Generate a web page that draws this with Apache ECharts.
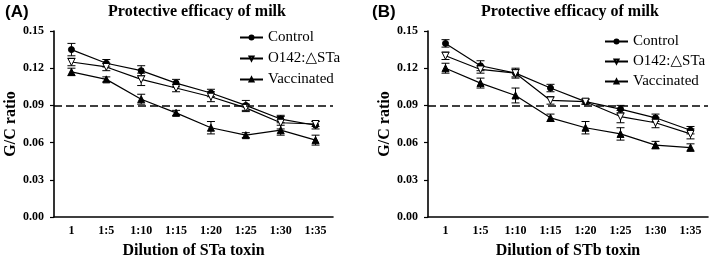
<!DOCTYPE html>
<html>
<head>
<meta charset="utf-8">
<script src="https://cdn.jsdelivr.net/npm/echarts@6/dist/echarts.min.js"></script>
<style>
  html, body { margin: 0; padding: 0; background: #fff; }
  #chart { width: 709px; height: 257px; }
</style>
</head>
<body>
<div id="chart"></div>
<script>
// 数据
const dilutions = ['1', '1:5', '1:10', '1:15', '1:20', '1:25', '1:30', '1:35'];
const yTicks = [0, 0.03, 0.06, 0.09, 0.12, 0.15];
const threshold = 0.09;

// (A) STa toxin
const controlA = [0.135, 0.124, 0.118, 0.108, 0.100, 0.090, 0.079, 0.074];
const controlAErr = [0.005, 0.003, 0.004, 0.003, 0.003, 0.004, 0.003, 0.003];
const o142A = [0.125, 0.121, 0.111, 0.104, 0.097, 0.088, 0.076, 0.075];
const o142AErr = [0.003, 0.003, 0.005, 0.003, 0.004, 0.003, 0.005, 0.002];
const vaccA = [0.117, 0.111, 0.095, 0.084, 0.072, 0.066, 0.070, 0.062];
const vaccAErr = [0.003, 0.002, 0.004, 0.002, 0.005, 0.002, 0.004, 0.004];

// (B) STb toxin
const controlB = [0.140, 0.122, 0.116, 0.104, 0.093, 0.087, 0.080, 0.070];
const controlBErr = [0.003, 0.004, 0.003, 0.003, 0.002, 0.003, 0.003, 0.003];
const o142B = [0.130, 0.119, 0.116, 0.094, 0.093, 0.081, 0.076, 0.067];
const o142BErr = [0.003, 0.003, 0.004, 0.003, 0.002, 0.005, 0.004, 0.004];
const vaccB = [0.120, 0.108, 0.098, 0.080, 0.072, 0.067, 0.058, 0.056];
const vaccBErr = [0.004, 0.004, 0.006, 0.003, 0.005, 0.005, 0.003, 0.003];

const serifFont = '"Liberation Serif", "DejaVu Serif", serif';
const sansFont = '"Liberation Sans", Arial, sans-serif';
const downTri = 'path://M0,0 L10,0 L5,9 Z';

// 误差线 custom series
const errorBars = (vals, errs, idx) => ({
    type: 'custom',
    xAxisIndex: idx,
    yAxisIndex: idx,
    silent: true,
    z: 1,
    data: vals.map((v, i) => [i, v - errs[i], v + errs[i]]),
    renderItem: (params, api) => {
        const lo = api.coord([api.value(0), api.value(1)]);
        const hi = api.coord([api.value(0), api.value(2)]);
        const w = 4;
        const style = { stroke: '#000', lineWidth: 1 };
        return {
            type: 'group',
            children: [
                { type: 'line', shape: { x1: hi[0], y1: hi[1], x2: lo[0], y2: lo[1] }, style },
                { type: 'line', shape: { x1: hi[0] - w, y1: hi[1], x2: hi[0] + w, y2: hi[1] }, style },
                { type: 'line', shape: { x1: lo[0] - w, y1: lo[1], x2: lo[0] + w, y2: lo[1] }, style }
            ]
        };
    }
});

const lineSeries = (name, vals, idx, symbol, filled, withMark) => {
    const s = {
        name,
        type: 'line',
        xAxisIndex: idx,
        yAxisIndex: idx,
        data: vals,
        symbol,
        symbolSize: symbol === 'circle' ? 6 : 7,
        showAllSymbol: true,
        z: 3,
        lineStyle: { color: '#000', width: 1.2 },
        itemStyle: { color: filled ? '#000' : '#fff', borderColor: '#000', borderWidth: 1 }
    };
    if (withMark) {
        s.markLine = {
            silent: true,
            symbol: 'none',
            label: { show: false },
            lineStyle: { color: '#000', type: [8, 4], width: 1.6 },
            data: [{ yAxis: threshold }]
        };
    }
    return s;
};

const xAxisOf = (idx, name) => ({
    type: 'category',
    gridIndex: idx,
    data: dilutions,
    boundaryGap: true,
    name,
    nameLocation: 'middle',
    nameGap: 26,
    nameTextStyle: { fontFamily: serifFont, fontWeight: 'bold', fontSize: 16, color: '#000' },
    axisLine: { lineStyle: { color: '#000', width: 1.6 } },
    axisTick: { alignWithLabel: true, length: 4, lineStyle: { color: '#000', width: 1.2 } },
    axisLabel: { fontFamily: serifFont, fontWeight: 'bold', fontSize: 12, color: '#000', margin: 8 },
    splitLine: { show: false }
});

const yAxisOf = idx => ({
    type: 'value',
    gridIndex: idx,
    min: yTicks[0],
    max: yTicks[yTicks.length - 1],
    interval: 0.03,
    name: 'G/C ratio',
    nameLocation: 'middle',
    nameGap: 34,
    nameTextStyle: { fontFamily: serifFont, fontWeight: 'bold', fontSize: 16, color: '#000' },
    axisLine: { show: true, lineStyle: { color: '#000', width: 1.6 } },
    axisTick: { show: true, length: 4, lineStyle: { color: '#000', width: 1.2 } },
    axisLabel: { fontFamily: serifFont, fontWeight: 'bold', fontSize: 12, color: '#000', margin: 10,
        formatter: v => v.toFixed(2) },
    splitLine: { show: false }
});

const legendOf = (left, top, gap) => ({
    left,
    top,
    padding: 0,
    orient: 'vertical',
    itemGap: gap,
    itemWidth: 23,
    itemHeight: 5,
    textStyle: { fontFamily: serifFont, fontSize: 15, color: '#000' },
    data: ['Control', 'O142:\u25b3STa', 'Vaccinated']
});

const option = {
    animation: false,
    backgroundColor: '#fff',
    textStyle: { fontFamily: serifFont },
    title: [
        { text: '(A)', left: 0, top: -1, textStyle: { fontFamily: sansFont, fontWeight: 'bold', fontSize: 17, color: '#000' } },
        { text: '(B)', left: 367, top: -1, textStyle: { fontFamily: sansFont, fontWeight: 'bold', fontSize: 17, color: '#000' } },
        { text: 'Protective efficacy of milk', left: 192, textAlign: 'center', top: -1, textStyle: { fontFamily: serifFont, fontWeight: 'bold', fontSize: 16, color: '#000' } },
        { text: 'Protective efficacy of milk', left: 565, textAlign: 'center', top: -1, textStyle: { fontFamily: serifFont, fontWeight: 'bold', fontSize: 16, color: '#000' } }
    ],
    legend: [legendOf(239, 30, 6), legendOf(604, 34, 5)],
    grid: [
        { left: 54, right: 376, top: 31, bottom: 40, containLabel: false, outerBoundsMode: 'none' },
        { left: 428, right: 1, top: 31, bottom: 40, containLabel: false, outerBoundsMode: 'none' }
    ],
    xAxis: [xAxisOf(0, 'Dilution of STa toxin'), xAxisOf(1, 'Dilution of STb toxin')],
    yAxis: [yAxisOf(0), yAxisOf(1)],
    series: [
        errorBars(controlA, controlAErr, 0),
        errorBars(o142A, o142AErr, 0),
        errorBars(vaccA, vaccAErr, 0),
        lineSeries('Control', controlA, 0, 'circle', true, true),
        lineSeries('O142:\u25b3STa', o142A, 0, downTri, false, false),
        lineSeries('Vaccinated', vaccA, 0, 'triangle', true, false),
        errorBars(controlB, controlBErr, 1),
        errorBars(o142B, o142BErr, 1),
        errorBars(vaccB, vaccBErr, 1),
        lineSeries('Control', controlB, 1, 'circle', true, true),
        lineSeries('O142:\u25b3STa', o142B, 1, downTri, false, false),
        lineSeries('Vaccinated', vaccB, 1, 'triangle', true, false)
    ]
};

const myChart = echarts.init(document.getElementById('chart'));
myChart.setOption(option);
</script>
</body>
</html>
